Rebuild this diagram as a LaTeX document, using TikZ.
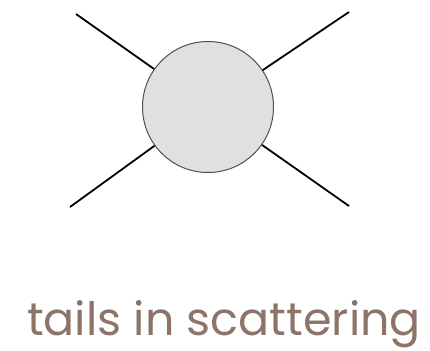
\documentclass[tikz,border=0pt]{standalone}
\usepackage{fontspec}
\newfontfamily\capfont{Poppins}
\definecolor{captc}{HTML}{8C7468}
\definecolor{blobfill}{HTML}{E0E0E0}
\definecolor{blobdraw}{HTML}{505050}
\begin{document}
\begin{tikzpicture}[x=1pt,y=-1pt,
  blob/.style={circle,draw=blobdraw,fill=blobfill,line width=1pt,minimum size=131pt,inner sep=0pt},
  leg/.style={line width=1.8pt,black},
  caption/.style={text=captc,font=\capfont\fontsize{46}{54}\selectfont,anchor=base,inner sep=0pt}]
\useasboundingbox (0,0) rectangle (430,350);
\node[blob] (c) at (208,107) {};
\coordinate (tl) at (76,14);
\coordinate (tr) at (349,12);
\coordinate (bl) at (70,207);
\coordinate (br) at (349,206);
\draw[leg] (tl) -- (c);
\draw[leg] (tr) -- (c);
\draw[leg] (bl) -- (c);
\draw[leg] (br) -- (c);
\node[caption] (t) at (224,335) {tails in scattering};
\end{tikzpicture}
\end{document}
